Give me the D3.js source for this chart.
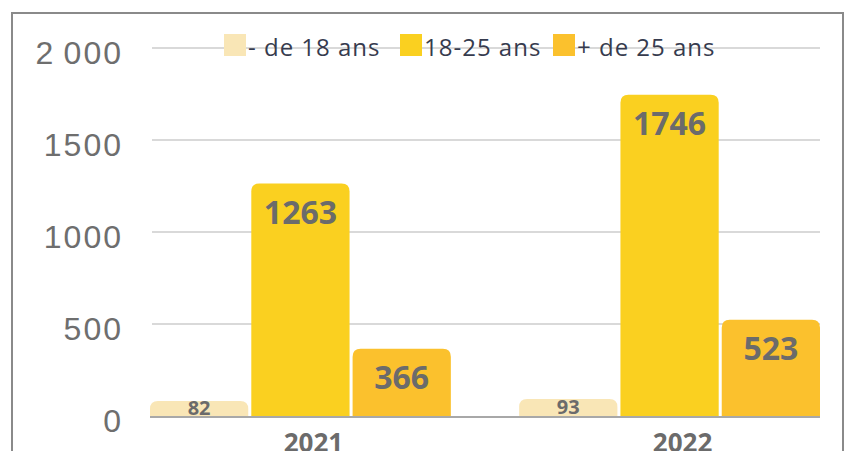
<!DOCTYPE html>
<html>
<head>
<meta charset="utf-8">
<script src="https://cdn.jsdelivr.net/npm/d3@7"></script>
<style>
  body { margin: 0; background: #fff; }
  svg { display: block; font-family: "Open Sans", sans-serif; }
</style>
</head>
<body>
<div id="chart"></div>
<script>
// données
var years = ["2021", "2022"];
var groupes = ["- de 18 ans", "18-25 ans", "+ de 25 ans"];
var valeurs2021 = [82, 1263, 366];
var valeurs2022 = [93, 1746, 523];
var couleurs = ["#f9e6b6", "#fad020", "#fbc12d"];
var yTicks = [0, 500, 1000, 1500, 2000];
var yTickLabels = ["0", "500", "1000", "1500", "2\u2009000"];

var width = 848, height = 451;

var svg = d3.select("#chart").append("svg")
    .attr("width", width)
    .attr("height", height);

// cadre
svg.append("rect")
    .attr("x", 12).attr("y", 13)
    .attr("width", 831).attr("height", 460)
    .attr("fill", "none")
    .attr("stroke", "#8a8a8a")
    .attr("stroke-width", 2);

var y = d3.scaleLinear().domain([0, 2000]).range([416, 48]);

var x0 = d3.scaleBand().domain(years).range([150, 820]).paddingInner(0.185).paddingOuter(0);
var x1 = d3.scaleBand().domain(groupes).range([0, x0.bandwidth()]).paddingInner(0.03);

// grille
svg.append("g").selectAll("line")
    .data(yTicks.filter(function(d) { return d > 0; }))
    .enter().append("line")
    .attr("x1", 152).attr("x2", 820)
    .attr("y1", function(d) { return y(d); })
    .attr("y2", function(d) { return y(d); })
    .attr("stroke", "#d9d9d9")
    .attr("stroke-width", 2);

// axe y
var yAxis = d3.axisLeft(y)
    .tickValues(yTicks)
    .tickSize(0)
    .tickPadding(0)
    .tickFormat(function(d, i) { return yTickLabels[i]; });

var gy = svg.append("g")
    .attr("transform", "translate(123,5)")
    .call(yAxis);
gy.select(".domain").remove();
gy.selectAll("text")
    .attr("fill", "#6e6e6e")
    .attr("font-size", 32)
    .attr("font-weight", 300)
    .attr("letter-spacing", "2px");

// barres
function barPath(x, yTop, w, h, r) {
  r = Math.min(r, h, w / 2);
  return "M" + x + "," + (yTop + h) +
    "V" + (yTop + r) +
    "Q" + x + "," + yTop + " " + (x + r) + "," + yTop +
    "H" + (x + w - r) +
    "Q" + (x + w) + "," + yTop + " " + (x + w) + "," + (yTop + r) +
    "V" + (yTop + h) + "Z";
}

var donnees = [valeurs2021, valeurs2022];

years.forEach(function(annee, i) {
  var g = svg.append("g").attr("transform", "translate(" + x0(annee) + ",0)");
  groupes.forEach(function(grp, j) {
    var v = donnees[i][j];
    var bx = x1(grp), bw = x1.bandwidth();
    var top = y(v), h = y(0) - y(v);
    g.append("path")
      .attr("d", barPath(bx, top, bw, h, 8))
      .attr("fill", couleurs[j]);
    var petit = h < 40;
    g.append("text")
      .attr("x", bx + bw / 2)
      .attr("y", petit ? top + h / 2 - 1 : top + 28)
      .attr("text-anchor", "middle")
      .attr("dominant-baseline", "central")
      .attr("fill", "#6b6b6b")
      .attr("font-weight", 700)
      .attr("font-size", petit ? 20 : 32)
      .text(v);
  });
});

// ligne de base
svg.append("line")
    .attr("x1", 150).attr("x2", 820)
    .attr("y1", y(0) + 1).attr("y2", y(0) + 1)
    .attr("stroke", "#a8a8a8")
    .attr("stroke-width", 2);

// étiquettes des années
svg.append("g").selectAll("text")
    .data(years)
    .enter().append("text")
    .attr("x", function(d) { return x0(d) + x0.bandwidth() / 2 + 13; })
    .attr("y", 452)
    .attr("text-anchor", "middle")
    .attr("fill", "#6b6b6b")
    .attr("font-weight", 700)
    .attr("font-size", 26)
    .text(function(d) { return d; });

// légende
var legX = [224, 400, 553];
var leg = svg.append("g");
groupes.forEach(function(grp, j) {
  leg.append("rect")
    .attr("x", legX[j]).attr("y", 34)
    .attr("width", 22).attr("height", 22)
    .attr("fill", couleurs[j]);
  leg.append("text")
    .attr("x", legX[j] + 24)
    .attr("y", 46)
    .attr("dominant-baseline", "central")
    .attr("fill", "#363b4e")
    .attr("font-size", 24)
    .attr("letter-spacing", "1px")
    .text(grp);
});
</script>
</body>
</html>
